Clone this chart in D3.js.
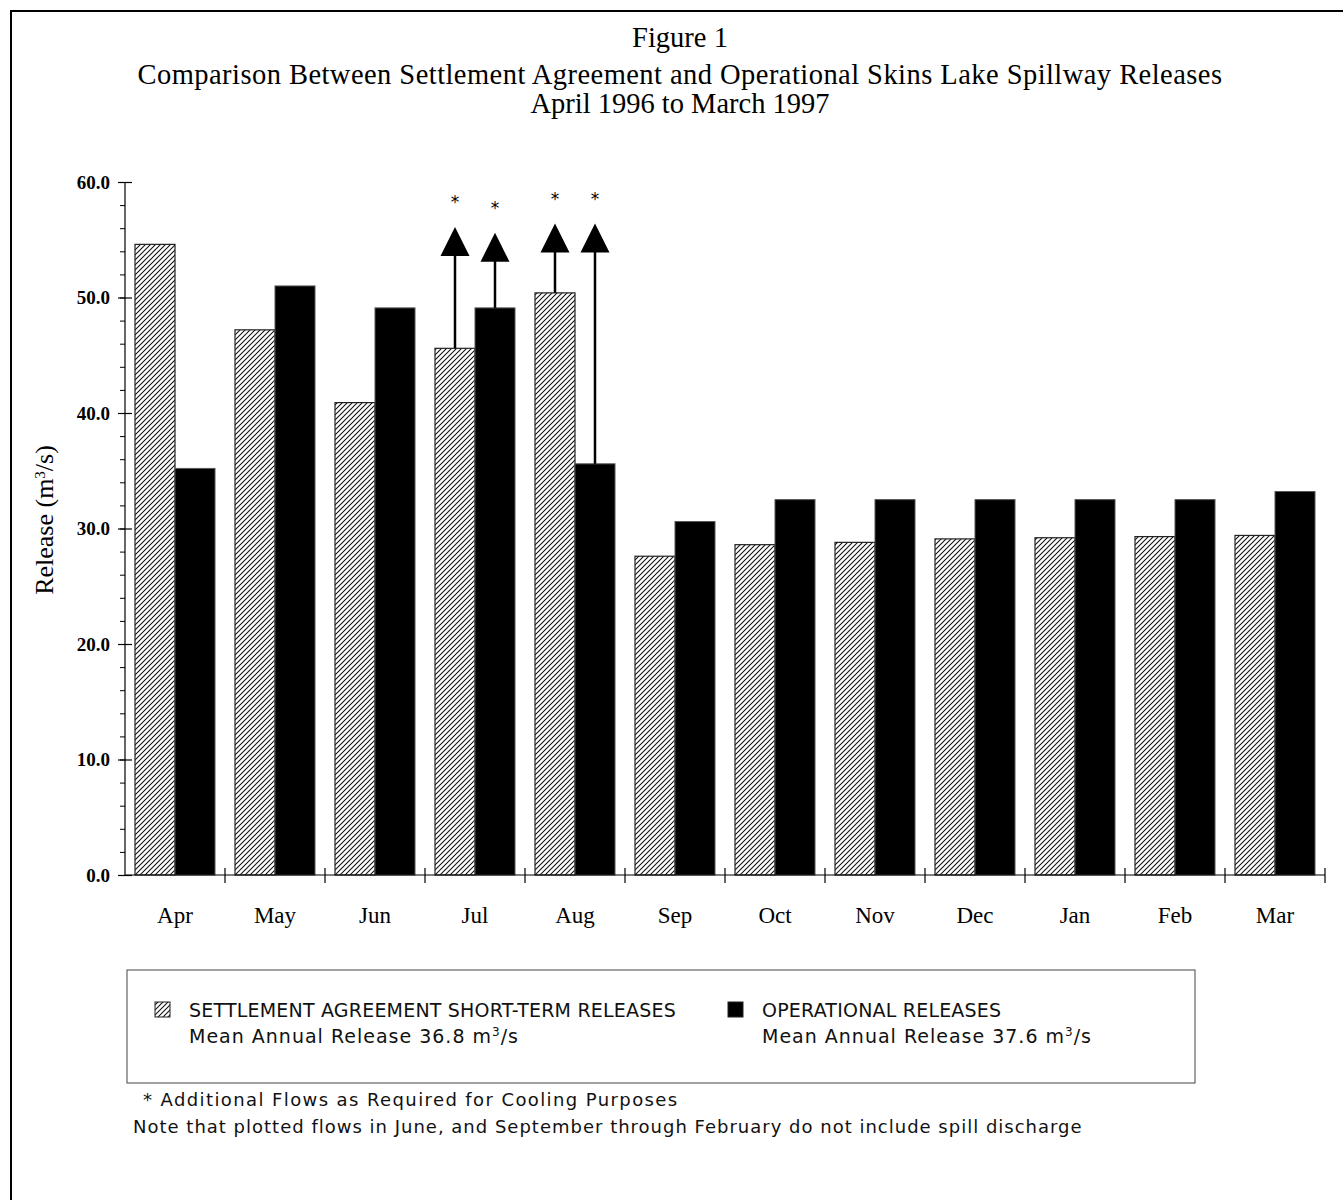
<!DOCTYPE html>
<html>
<head>
<meta charset="utf-8">
<script src="https://cdn.jsdelivr.net/npm/d3@7"></script>
<style>
  body { margin: 0; background: #fff; }
  svg { display: block; }
</style>
</head>
<body>
<svg id="chart" width="1343" height="1200"></svg>
<script>
// data
var months = ["Apr", "May", "Jun", "Jul", "Aug", "Sep", "Oct", "Nov", "Dec", "Jan", "Feb", "Mar"];
var settlement = [54.6, 47.2, 40.9, 45.6, 50.4, 27.6, 28.6, 28.8, 29.1, 29.2, 29.3, 29.4];
var operational = [35.2, 51.0, 49.1, 49.1, 35.6, 30.6, 32.5, 32.5, 32.5, 32.5, 32.5, 33.2];
var seriesNames = ["settlement", "operational"];
var majorTicks = [0, 10, 20, 30, 40, 50, 60];
var minorTicks = d3.range(0, 61, 2);
// additional cooling flows: month, series, tip of arrow
var coolingArrows = [
  { month: "Jul", series: "settlement", to: 56.1 },
  { month: "Jul", series: "operational", to: 55.6 },
  { month: "Aug", series: "settlement", to: 56.4 },
  { month: "Aug", series: "operational", to: 56.4 }
];
var titleLines = [
  "Figure 1",
  "Comparison Between Settlement Agreement and Operational Skins Lake Spillway Releases",
  "April 1996 to March 1997"
];

var svg = d3.select("#chart");
var serif = "'Liberation Serif', 'DejaVu Serif', serif";
var sans = "'DejaVu Sans', 'Noto Sans', sans-serif";

// hatch pattern
var defs = svg.append("defs");
defs.append("pattern")
    .attr("id", "hatch")
    .attr("patternUnits", "userSpaceOnUse")
    .attr("width", 5).attr("height", 5)
    .append("path")
    .attr("d", "M0,5 L5,0 M-1,1 L1,-1 M4,6 L6,4")
    .attr("stroke", "#111")
    .attr("stroke-width", 1.1);

// page frame
svg.append("rect")
    .attr("x", 11).attr("y", 11)
    .attr("width", 1400).attr("height", 1300)
    .attr("fill", "none").attr("stroke", "#000").attr("stroke-width", 2);

// titles
var titleY = [47, 84, 113];
var titleSpacing = [0, 0.45, 0];
svg.selectAll("text.title")
    .data(titleLines)
  .enter().append("text")
    .attr("class", "title")
    .attr("x", 680)
    .attr("y", function(d, i) { return titleY[i]; })
    .attr("text-anchor", "middle")
    .attr("font-family", serif)
    .attr("font-size", 28.5)
    .attr("letter-spacing", function(d, i) { return titleSpacing[i]; })
    .text(function(d) { return d; });

var plotLeft = 125, plotRight = 1325, plotTop = 182, plotBottom = 875;

var x = d3.scaleBand().domain(months).range([plotLeft, plotRight]);
var xs = d3.scaleBand().domain(seriesNames).range([10, 90]);
var y = d3.scaleLinear().domain([0, 60]).range([plotBottom, plotTop]);

var g = svg.append("g");

// bars
var groups = g.selectAll("g.month")
    .data(months)
  .enter().append("g")
    .attr("class", "month")
    .attr("transform", function(d) { return "translate(" + x(d) + ",0)"; });

groups.append("rect")
    .attr("x", xs("settlement"))
    .attr("width", xs.bandwidth())
    .attr("y", function(d, i) { return y(settlement[i]); })
    .attr("height", function(d, i) { return plotBottom - y(settlement[i]); })
    .attr("fill", "url(#hatch)")
    .attr("stroke", "#222").attr("stroke-width", 1.2);

groups.append("rect")
    .attr("x", xs("operational"))
    .attr("width", xs.bandwidth())
    .attr("y", function(d, i) { return y(operational[i]); })
    .attr("height", function(d, i) { return plotBottom - y(operational[i]); })
    .attr("fill", "#000")
    .attr("stroke", "#555").attr("stroke-width", 1);

// arrows for cooling flows
function barValue(a) {
  var i = months.indexOf(a.month);
  return a.series === "settlement" ? settlement[i] : operational[i];
}
function arrowX(a) { return x(a.month) + xs(a.series) + xs.bandwidth() / 2; }

var arrows = g.selectAll("g.arrow")
    .data(coolingArrows)
  .enter().append("g")
    .attr("class", "arrow");

arrows.append("line")
    .attr("x1", arrowX).attr("x2", arrowX)
    .attr("y1", function(d) { return y(barValue(d)); })
    .attr("y2", function(d) { return y(d.to) + 20; })
    .attr("stroke", "#000").attr("stroke-width", 2.5);

arrows.append("path")
    .attr("d", function(d) {
      var cx = arrowX(d), ty = y(d.to);
      return "M" + cx + "," + ty + " L" + (cx + 14.5) + "," + (ty + 29) + " L" + (cx - 14.5) + "," + (ty + 29) + "Z";
    })
    .attr("fill", "#000");

arrows.append("text")
    .attr("x", arrowX)
    .attr("y", function(d) { return y(d.to) - 19; })
    .attr("text-anchor", "middle")
    .attr("font-family", sans)
    .attr("font-size", 17)
    .text("*");

// y axis
var yAxis = g.append("g")
    .attr("transform", "translate(" + plotLeft + ",0)")
    .call(d3.axisLeft(y).tickValues(majorTicks).tickSize(7).tickPadding(8).tickFormat(d3.format(".1f")));
yAxis.select(".domain").attr("d", "M0," + plotTop + "V" + plotBottom).attr("stroke", "#000").attr("stroke-width", 1.2);
yAxis.selectAll(".tick line").attr("x1", 7).attr("stroke-width", 1.2);
yAxis.selectAll(".tick text")
    .attr("font-family", serif).attr("font-size", 19).attr("font-weight", "bold").attr("fill", "#000");

g.append("g")
    .attr("transform", "translate(" + plotLeft + ",0)")
    .call(d3.axisLeft(y).tickValues(minorTicks).tickSize(5).tickFormat(""))
    .call(function(s) { s.select(".domain").remove(); });

// x axis
var xAxis = g.append("g")
    .attr("transform", "translate(0," + plotBottom + ")")
    .call(d3.axisBottom(x).tickSize(0).tickPadding(32));
xAxis.select(".domain").attr("d", "M" + plotLeft + ",0H" + plotRight).attr("stroke", "#000").attr("stroke-width", 1.2);
xAxis.selectAll(".tick text")
    .attr("font-family", serif).attr("font-size", 23).attr("fill", "#000");

var bounds = months.map(function(m) { return x(m); }).concat([plotRight]);
xAxis.selectAll("line.sep")
    .data(bounds.slice(1))
  .enter().append("line")
    .attr("class", "sep")
    .attr("x1", function(d) { return d; }).attr("x2", function(d) { return d; })
    .attr("y1", -7).attr("y2", 8)
    .attr("stroke", "#000").attr("stroke-width", 1.2);

// y label
svg.append("text")
    .attr("transform", "translate(53,520) rotate(-90)")
    .attr("text-anchor", "middle")
    .attr("font-family", serif)
    .attr("font-size", 26)
    .html("Release (m<tspan baseline-shift='super' font-size='15'>3</tspan>/s)");

// legend
var legend = svg.append("g");
legend.append("rect")
    .attr("x", 127).attr("y", 970).attr("width", 1068).attr("height", 113)
    .attr("fill", "none").attr("stroke", "#444").attr("stroke-width", 1);

var legendItems = [
  { fill: "url(#hatch)", x: 155, name: "SETTLEMENT AGREEMENT SHORT-TERM RELEASES", mean: "36.8" },
  { fill: "#000", x: 728, name: "OPERATIONAL RELEASES", mean: "37.6" }
];
var li = legend.selectAll("g.item")
    .data(legendItems)
  .enter().append("g")
    .attr("class", "item");
li.append("rect")
    .attr("x", function(d) { return d.x; }).attr("y", 1002)
    .attr("width", 15).attr("height", 15)
    .attr("fill", function(d) { return d.fill; })
    .attr("stroke", "#222").attr("stroke-width", 1);
li.append("text")
    .attr("x", function(d) { return d.x + 34; }).attr("y", 1017)
    .attr("font-family", sans).attr("font-size", 19).attr("letter-spacing", 0.2).attr("fill", "#111")
    .text(function(d) { return d.name; });
li.append("text")
    .attr("x", function(d) { return d.x + 34; }).attr("y", 1043)
    .attr("font-family", sans).attr("font-size", 19).attr("letter-spacing", 1).attr("fill", "#111")
    .html(function(d) { return "Mean Annual Release " + d.mean + " m<tspan baseline-shift='super' font-size='12'>3</tspan>/s"; });

// notes
svg.append("text")
    .attr("x", 143).attr("y", 1106)
    .attr("font-family", sans).attr("font-size", 18).attr("letter-spacing", 1.4).attr("fill", "#111")
    .text("* Additional Flows as Required for Cooling Purposes");
svg.append("text")
    .attr("x", 133).attr("y", 1133)
    .attr("font-family", sans).attr("font-size", 18).attr("letter-spacing", 1).attr("fill", "#111")
    .text("Note that plotted flows in June, and September through February do not include spill discharge");
</script>
</body>
</html>
